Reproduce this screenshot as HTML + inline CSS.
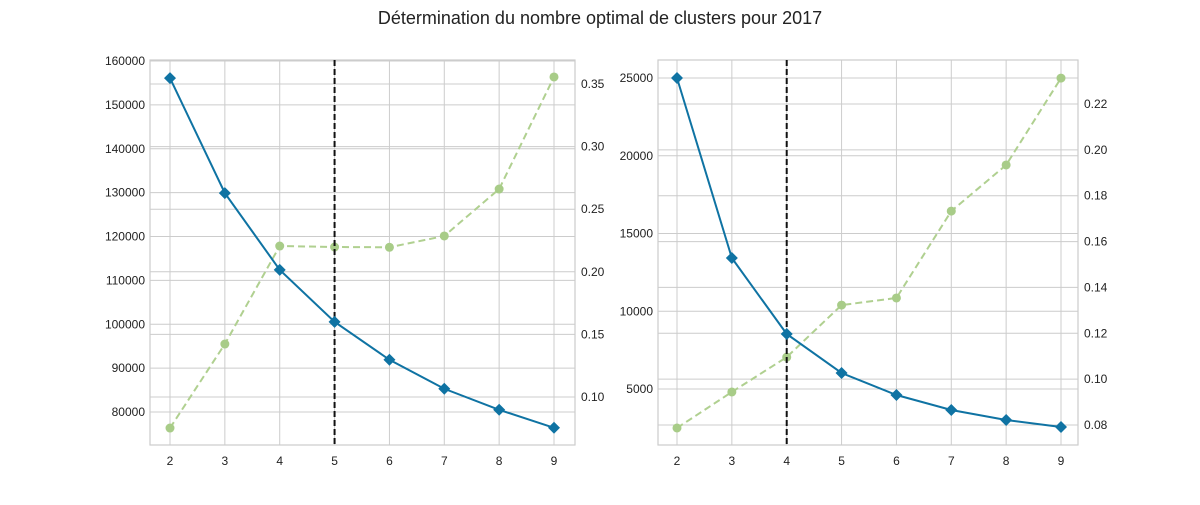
<!DOCTYPE html>
<html><head><meta charset="utf-8"><style>
body{margin:0;background:#fff;font-family:"Liberation Sans",sans-serif}
svg text{font-family:"Liberation Sans",sans-serif}
</style></head><body>
<svg id="chart" width="1200" height="500">
<text x="600" y="24" text-anchor="middle" font-size="18" fill="#222">Détermination du nombre optimal de clusters pour 2017</text>
</svg>
<script>
const ks = [2,3,4,5,6,7,8,9];
const leftInertia = [156100,129900,112400,100550,91900,85300,80500,76400];
const leftScore = [0.0752,0.1423,0.2206,0.2198,0.2196,0.2286,0.2661,0.3556];
const leftPrimaryTicks = [80000,90000,100000,110000,120000,130000,140000,150000,160000];
const leftSecondaryTicks = [0.10,0.15,0.20,0.25,0.30,0.35];
const leftElbow = 5;
const rightInertia = [25000,13424,8537,6029,4614,3650,3006,2556];
const rightScore = [0.0787,0.0944,0.1096,0.1323,0.1354,0.1733,0.1934,0.2313];
const rightPrimaryTicks = [5000,10000,15000,20000,25000];
const rightSecondaryTicks = [0.08,0.10,0.12,0.14,0.16,0.18,0.20,0.22];
const rightElbow = 4;

const svg = document.getElementById('chart');
const NS = 'http://www.w3.org/2000/svg';
function mk(tag, attrs, parent){const e=document.createElementNS(NS,tag);for(const k in attrs)e.setAttribute(k,attrs[k]);(parent||svg).appendChild(e);return e;}
function lin(d0,d1,r0,r1){return v=>r0+(v-d0)*(r1-r0)/(d1-d0);}

function panel(p){
  const g = mk('g',{});
  
  
  const x = lin(2,9,p.x2,p.x9);
  const y1 = lin(p.pa[0],p.pa[1],p.pa[2],p.pa[3]);
  const y2 = lin(p.sa[0],p.sa[1],p.sa[2],p.sa[3]);
  // grids
  ks.forEach(k=>{const l=mk('line',{x1:x(k),x2:x(k),y1:p.top,y2:p.bot,stroke:'#cccccc','stroke-width':1},g);
    });
  p.pt.forEach(t=>{const yy=y1(t);const l=mk('line',{x1:p.left,x2:p.right,y1:yy,y2:yy,stroke:'#cccccc'},g);
    
    const tx=mk('text',{x:p.left-5,y:yy+4,'text-anchor':'end','font-size':12,fill:'#222'},g);tx.textContent=t;
    });
  p.st.forEach(t=>{const yy=y2(t);const l=mk('line',{x1:p.left,x2:p.right,y1:yy,y2:yy,stroke:'#cccccc'},g);
    
    const tx=mk('text',{x:p.right+6,y:yy+4,'font-size':12,fill:'#222'},g);tx.textContent=t.toFixed(2);
    });
  ks.forEach(k=>{const tx=mk('text',{x:x(k),y:p.bot+20,'text-anchor':'middle','font-size':12,fill:'#222'},g);tx.textContent=k;
    });
  const fr=mk('rect',{x:p.left,y:p.top,width:p.right-p.left,height:p.bot-p.top,fill:'none',stroke:'#cccccc','stroke-width':1.2},g);
  
  // score series
  const gl=mk('polyline',{points:ks.map((k,i)=>x(k)+','+y2(p.score[i])).join(' '),fill:'none',stroke:'#b0d090','stroke-width':2,'stroke-dasharray':'7,4'},g);
  
  ks.forEach((k,i)=>{const c=mk('circle',{cx:x(k),cy:y2(p.score[i]),r:4.5,fill:'#a8cc88'},g);
    });
  // elbow
  const el=mk('line',{x1:x(p.elbow),x2:x(p.elbow),y1:p.top,y2:p.bot,stroke:'#111','stroke-width':2,'stroke-dasharray':'6,3'},g);
  
  // inertia
  const bl=mk('polyline',{points:ks.map((k,i)=>x(k)+','+y1(p.inertia[i])).join(' '),fill:'none',stroke:'#0f73a3','stroke-width':2},g);
  
  ks.forEach((k,i)=>{const cx=x(k),cy=y1(p.inertia[i]);
    const d=mk('polygon',{points:`${cx},${cy-6} ${cx+6},${cy} ${cx},${cy+6} ${cx-6},${cy}`,fill:'#0f73a3'},g);
    });
}
panel({name:'left-panel',left:150,right:575,top:60,bot:445,x2:170,x9:554,
  pa:[160000,80000,61,412],sa:[0.35,0.10,84,397],pt:leftPrimaryTicks,st:leftSecondaryTicks,
  inertia:leftInertia,score:leftScore,elbow:leftElbow});
panel({name:'right-panel',left:658,right:1078,top:60,bot:445,x2:677,x9:1061,
  pa:[25000,5000,78,389],sa:[0.22,0.08,104,425],pt:rightPrimaryTicks,st:rightSecondaryTicks,
  inertia:rightInertia,score:rightScore,elbow:rightElbow});
</script>
</body></html>
